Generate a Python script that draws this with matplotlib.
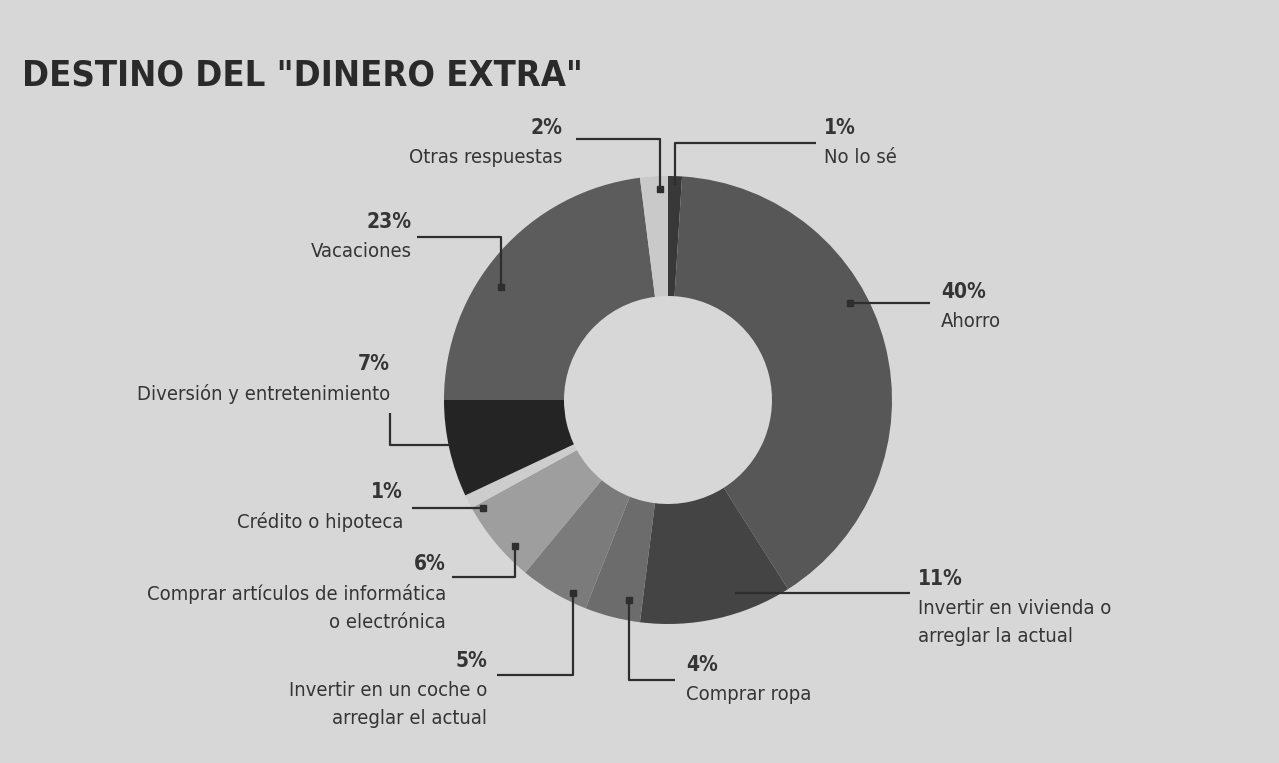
import matplotlib.pyplot as plt

# datos del grafico (sentido horario desde arriba)
categorias = ['No lo sé', 'Ahorro', 'Invertir en vivienda o\narreglar la actual', 'Comprar ropa',
              'Invertir en un coche o\narreglar el actual', 'Comprar artículos de informática\no electrónica',
              'Crédito o hipoteca', 'Diversión y entretenimiento', 'Vacaciones', 'Otras respuestas']
porcentajes = [1, 40, 11, 4, 5, 6, 1, 7, 23, 2]
colores = ['#383838', '#575757', '#444444', '#6c6c6c', '#7b7b7b', '#9e9e9e',
           '#cdcdcd', '#242424', '#5c5c5c', '#c9c9c9']

W, H = 1279, 763
FONDO = '#d7d7d7'
TXT = '#353535'

fig = plt.figure(figsize=(W / 100, H / 100), dpi=100, facecolor=FONDO)
ax = fig.add_axes([0, 0, 1, 1])
ax.set_facecolor(FONDO)

cx, cy = 668, 400
R = 224
ax.pie(porcentajes, colors=colores, startangle=90, counterclock=False,
       center=(cx, H - cy), radius=R, frame=False,
       wedgeprops=dict(width=R - 104, linewidth=0))
ax.set_xlim(0, W)
ax.set_ylim(0, H)
ax.set_aspect('equal')
ax.axis('off')


def y(p):
    return H - p


def linea(pts, marca=True):
    xs = [p[0] for p in pts]
    ys = [y(p[1]) for p in pts]
    ax.plot(xs, ys, color='#2e2e2e', lw=1.6, solid_capstyle='butt')
    if marca:
        ax.plot(xs[-1], ys[-1], 's', color='#2e2e2e', ms=5)


def etiqueta(x, yp, pct, texto, ha):
    ax.text(x, y(yp), pct, ha=ha, va='center', fontsize=15, fontweight='bold',
            color=TXT, fontstretch='condensed')
    ax.text(x, y(yp + 20), texto, ha=ha, va='top', fontsize=14.5, color=TXT,
            fontstretch='condensed', linespacing=1.6)


ax.text(22, y(75), 'DESTINO DEL "DINERO EXTRA"', ha='left', va='center',
        fontsize=26, fontweight='bold', color='#2a2a2a', fontstretch='condensed')

# lineas guia
linea([(576, 139), (660, 139), (660, 189)])
linea([(816, 143), (675, 143), (675, 185)], marca=False)
linea([(417, 237), (501, 237), (501, 287)])
linea([(930, 303), (850, 303)])
linea([(390, 413), (390, 445), (450, 445)], marca=False)
linea([(412, 508), (483, 508)])
linea([(452, 577), (515, 577), (515, 546)])
linea([(497, 675), (573, 675), (573, 593)])
linea([(675, 680), (629, 680), (629, 600)])
linea([(910, 593), (735, 593)], marca=False)

etiqueta(562, 128, f'{porcentajes[9]}%', categorias[9], 'right')
etiqueta(824, 128, f'{porcentajes[0]}%', categorias[0], 'left')
etiqueta(412, 222, f'{porcentajes[8]}%', categorias[8], 'right')
etiqueta(941, 292, f'{porcentajes[1]}%', categorias[1], 'left')
etiqueta(390, 364, f'{porcentajes[7]}%', categorias[7], 'right')
etiqueta(403, 492, f'{porcentajes[6]}%', categorias[6], 'right')
etiqueta(446, 564, f'{porcentajes[5]}%', categorias[5], 'right')
etiqueta(487, 661, f'{porcentajes[4]}%', categorias[4], 'right')
etiqueta(686, 665, f'{porcentajes[3]}%', categorias[3], 'left')
etiqueta(918, 579, f'{porcentajes[2]}%', categorias[2], 'left')

fig.savefig('out.png', dpi=100, facecolor=FONDO)
